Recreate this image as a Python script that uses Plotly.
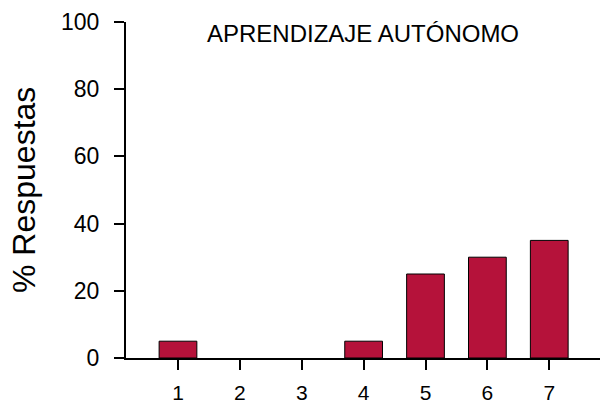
import plotly.graph_objects as go

categorias = [1, 2, 3, 4, 5, 6, 7]
porcentajes = [5, 0, 0, 5, 25, 30, 35]
etiquetas_y = [0, 20, 40, 60, 80, 100]

# sin borde en las barras de altura cero
bordes = [1 if v > 0 else 0 for v in porcentajes]

fig = go.Figure(data=[
    go.Bar(
        x=categorias,
        y=porcentajes,
        width=0.61,
        marker=dict(color='#B5123A', line=dict(color='black', width=bordes))
    )
])

# titulo dentro del area de la grafica
fig.add_annotation(
    text="APRENDIZAJE AUTÓNOMO",
    xref='paper', yref='paper',
    x=0.5, y=1,
    xanchor='center', yanchor='middle',
    yshift=-11,
    showarrow=False,
    font=dict(size=24, color='black')
)

# titulo del eje y
fig.add_annotation(
    text="% Respuestas",
    xref='paper', yref='paper',
    x=0, y=0.5,
    xanchor='center', yanchor='middle',
    xshift=-102,
    textangle=-90,
    showarrow=False,
    font=dict(size=32, color='black')
)

fig.update_layout(
    width=601, height=403,
    margin=dict(l=126, r=1, t=22, b=45, autoexpand=False),
    plot_bgcolor='white',
    paper_bgcolor='white',
    font=dict(family='Liberation Sans, Arial, sans-serif', color='black'),
    showlegend=False,
    xaxis=dict(
        range=[0.16, 7.82],
        tickmode='array', tickvals=categorias,
        showline=True, linecolor='black', linewidth=2,
        ticks='outside', ticklen=10, tickwidth=2, tickcolor='black',
        ticklabelstandoff=5,
        tickfont=dict(size=21),
        showgrid=False, zeroline=False, automargin=False
    ),
    yaxis=dict(
        range=[0, 100],
        tickmode='array', tickvals=etiquetas_y,
        showline=True, linecolor='black', linewidth=2,
        ticks='outside', ticklen=10, tickwidth=2, tickcolor='black',
        ticklabelstandoff=10,
        tickfont=dict(size=23),
        showgrid=False, zeroline=False, automargin=False
    )
)

fig.write_html("out.html", config={'displayModeBar': False},
               post_script="document.body.style.margin='0';")
